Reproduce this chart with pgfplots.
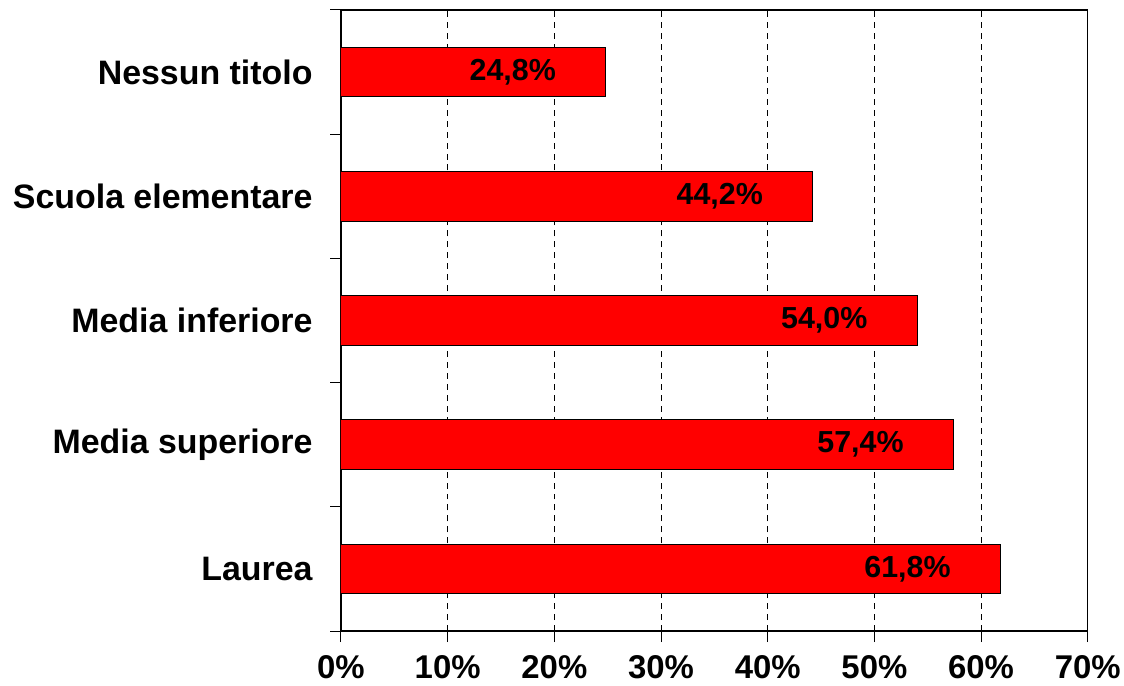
\documentclass[border=0pt]{standalone}
\usepackage{fontspec}
\setmainfont{Liberation Sans}
\usepackage{pgfplots}
\pgfplotsset{compat=1.18}

\begin{document}
\begin{tikzpicture}
\begin{axis}[
    xbar,
    scale only axis,
    width=749pt,
    height=623pt,
    xmin=0, xmax=70,
    ymin=-0.5, ymax=4.5,
    bar width=0.4,
    axis line style={black, line width=1.3pt},
    xtick={0,10,...,70},
    xticklabel={\pgfmathprintnumber{\tick}\%},
    xmajorgrids,
    major grid style={black, line width=0.9pt, dash pattern=on 6pt off 5pt},
    ytick={0,1,2,3,4},
    yticklabels={Laurea,Media superiore,Media inferiore,Scuola elementare,Nessun titolo},
    major y tick style={draw=none},
    minor ytick={-0.5,0.5,1.5,2.5,3.5,4.5},
    minor tick length=11pt,
    major tick length=11pt,
    tick align=outside,
    tick style={black, line width=1pt},
    xtick pos=bottom,
    ytick pos=left,
    yticklabel style={font=\fontsize{34}{40}\selectfont\bfseries, xshift=-14pt},
    xticklabel style={font=\fontsize{33}{38}\selectfont\bfseries, yshift=-10pt},
    /pgf/number format/assume math mode=true,
    nodes near coords={\pgfmathprintnumber[fixed,fixed zerofill,precision=1,use comma]{\pgfplotspointmeta}\%},
    every node near coord/.append style={anchor=east, xshift=-46pt,
        font=\fontsize{30.5}{36}\selectfont\bfseries, text=black},
]
\addplot[fill=red, draw=black, line width=1pt] coordinates {
    (61.8,0) (57.4,1) (54.0,2) (44.2,3) (24.8,4)
};
\end{axis}
\path ([xshift=-342pt,yshift=-55pt]current axis.south west) rectangle ([xshift=33pt,yshift=10pt]current axis.north east);
\end{tikzpicture}
\end{document}
